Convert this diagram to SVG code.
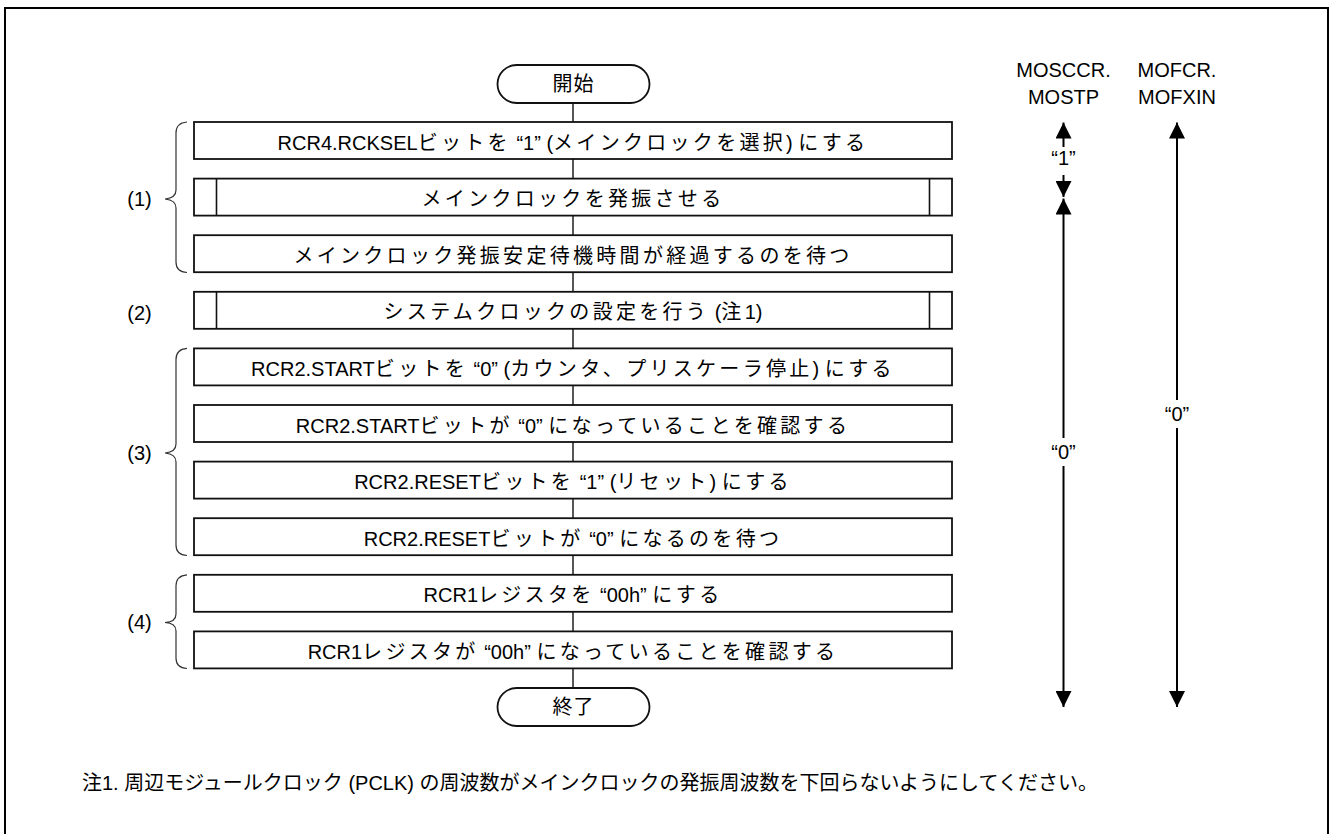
<svg xmlns="http://www.w3.org/2000/svg" width="1334" height="834" viewBox="0 0 1334 834">
<style>
text{font-family:"Liberation Sans","Noto Sans CJK JP",sans-serif;font-size:20px;fill:#000}
.c{text-anchor:middle}
.j{letter-spacing:3.3px}
.box{fill:#fff;stroke:#111;stroke-width:1.8}
.inner{stroke:#111;stroke-width:1.6;fill:none}
.conn{stroke:#111;stroke-width:1.4;fill:none}
.brace{stroke:#333;stroke-width:1.2;fill:none}
.arr{stroke:#000;stroke-width:2;fill:none}
</style>
<defs>
<marker id="ah" viewBox="0 0 16 16" refX="16" refY="8" markerWidth="16" markerHeight="16" markerUnits="userSpaceOnUse" orient="auto-start-reverse">
<path d="M0,0 L16,8 L0,16 z" fill="#000"/>
</marker>
</defs>
<rect x="5" y="8" width="1323" height="840" fill="#fff" stroke="#000" stroke-width="2"/>

<g id="connectors">
<path class="conn" d="M573,103 V122 M573,159 V178.6 M573,215.6 V235.2 M573,272.2 V291.8 M573,328.8 V348.4 M573,385.4 V405 M573,442 V461.6 M573,498.6 V518.2 M573,555.2 V574.8 M573,611.8 V631.4 M573,668.4 V688"/>
</g>

<g id="start">
<rect class="box" x="497.5" y="65" width="152" height="38" rx="19"/>
<text class="c" x="573.5" y="91" letter-spacing="1">開始</text>
</g>
<g id="step1">
<rect class="box" x="194" y="122" width="758" height="37"/>
<text class="c" x="573" y="149.5">RCR4.RCKSEL<tspan class="j">ビットを</tspan> “1” (<tspan class="j">メインクロックを選択</tspan>) <tspan class="j">にする</tspan></text>
</g>
<g id="step2">
<rect class="box" x="194" y="178.6" width="758" height="37"/>
<path class="inner" d="M216.5,178.6 V215.6 M929.5,178.6 V215.6"/>
<text class="c j" x="573" y="206.1">メインクロックを発振させる</text>
</g>
<g id="step3">
<rect class="box" x="194" y="235.2" width="758" height="37"/>
<text class="c j" x="573" y="262.7">メインクロック発振安定待機時間が経過するのを待つ</text>
</g>
<g id="step4">
<rect class="box" x="194" y="291.8" width="758" height="37"/>
<path class="inner" d="M216.5,291.8 V328.8 M929.5,291.8 V328.8"/>
<text class="c" x="573" y="319.3"><tspan class="j">システムクロックの設定を行う</tspan> (<tspan class="j">注</tspan>1)</text>
</g>
<g id="step5">
<rect class="box" x="194" y="348.4" width="758" height="37"/>
<text class="c" x="573" y="375.9">RCR2.START<tspan class="j">ビットを</tspan> “0” (<tspan class="j">カウンタ、プリスケーラ停止</tspan>) <tspan class="j">にする</tspan></text>
</g>
<g id="step6">
<rect class="box" x="194" y="405" width="758" height="37"/>
<text class="c" x="573" y="432.5">RCR2.START<tspan class="j">ビットが</tspan> “0” <tspan class="j">になっていることを確認する</tspan></text>
</g>
<g id="step7">
<rect class="box" x="194" y="461.6" width="758" height="37"/>
<text class="c" x="573" y="489.1">RCR2.RESET<tspan class="j">ビットを</tspan> “1” (<tspan class="j">リセット</tspan>) <tspan class="j">にする</tspan></text>
</g>
<g id="step8">
<rect class="box" x="194" y="518.2" width="758" height="37"/>
<text class="c" x="573" y="545.7">RCR2.RESET<tspan class="j">ビットが</tspan> “0” <tspan class="j">になるのを待つ</tspan></text>
</g>
<g id="step9">
<rect class="box" x="194" y="574.8" width="758" height="37"/>
<text class="c" x="573" y="602.3">RCR1<tspan class="j">レジスタを</tspan> “00h” <tspan class="j">にする</tspan></text>
</g>
<g id="step10">
<rect class="box" x="194" y="631.4" width="758" height="37"/>
<text class="c" x="573" y="658.9">RCR1<tspan class="j">レジスタが</tspan> “00h” <tspan class="j">になっていることを確認する</tspan></text>
</g>
<g id="end">
<rect class="box" x="497.5" y="688" width="152" height="38" rx="19"/>
<text class="c" x="573.5" y="714" letter-spacing="1">終了</text>
</g>

<g id="groups">
<path class="brace" d="M187,122 Q176,123 176,133 V190 Q176,198 165,199 Q176,200 176,208 V262 Q176,272 187,272.5"/>
<text class="c" x="139.5" y="206">(1)</text>
<text class="c" x="139.5" y="320">(2)</text>
<path class="brace" d="M187,348.4 Q176,349.4 176,359.4 V444 Q176,452 165,453 Q176,454 176,462 V545 Q176,555 187,555.5"/>
<text class="c" x="139.5" y="460">(3)</text>
<path class="brace" d="M187,574.8 Q176,575.8 176,585.8 V614 Q176,622 165,622.5 Q176,623 176,631 V658 Q176,668 187,668.5"/>
<text class="c" x="139.5" y="629">(4)</text>
</g>

<g id="signals">
<text class="c" x="1063.5" y="76.5">MOSCCR.</text>
<text class="c" x="1063.5" y="104">MOSTP</text>
<text class="c" x="1177" y="76.5">MOFCR.</text>
<text class="c" x="1177" y="104">MOFXIN</text>
<path class="arr" d="M1063.5,147 V122.5" marker-end="url(#ah)"/>
<path class="arr" d="M1063.5,175 V197" marker-end="url(#ah)"/>
<text class="c" x="1063.5" y="165">“1”</text>
<path class="arr" d="M1063.5,438 V198.5" marker-end="url(#ah)"/>
<path class="arr" d="M1063.5,466 V707" marker-end="url(#ah)"/>
<text class="c" x="1063.5" y="459">“0”</text>
<path class="arr" d="M1177,400 V122.5" marker-end="url(#ah)"/>
<path class="arr" d="M1177,428 V707" marker-end="url(#ah)"/>
<text class="c" x="1177" y="421">“0”</text>
</g>

<g id="note">
<text x="82" y="790">注1. 周辺モジュールクロック (PCLK) の周波数がメインクロックの発振周波数を下回らないようにしてください。</text>
</g>
</svg>
